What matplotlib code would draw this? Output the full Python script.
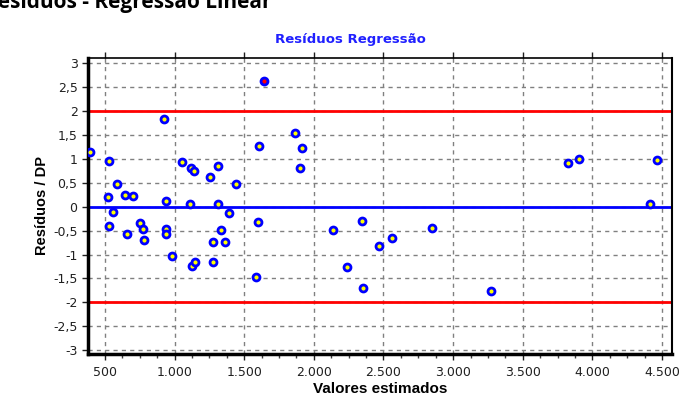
import matplotlib
matplotlib.use("Agg")
import matplotlib.pyplot as plt
from matplotlib.ticker import FuncFormatter, MultipleLocator
import numpy as np

# valores estimados (x) e residuos padronizados (y)
estimados = [393, 531, 521, 588, 645, 698, 560, 531, 921, 940,
             1050, 1117, 1140, 1107, 1255, 1314, 1314, 1390, 1440, 1607,
             1598, 1862, 1912, 1902, 2136, 2343, 2848, 3824, 3902, 4462,
             4414, 660, 752, 776, 783, 940, 940, 981, 1126, 1145,
             1274, 1274, 1333, 1362, 1588, 2240, 2353, 2466, 2562, 3269]
residuos = [1.14, 0.96, 0.20, 0.48, 0.25, 0.22, -0.12, -0.40, 1.83, 0.13,
            0.94, 0.80, 0.74, 0.06, 0.63, 0.86, 0.06, -0.14, 0.48, 1.26,
            -0.32, 1.54, 1.23, 0.80, -0.48, -0.29, -0.45, 0.91, 1.00, 0.97,
            0.06, -0.57, -0.35, -0.46, -0.69, -0.46, -0.58, -1.03, -1.24, -1.15,
            -0.74, -1.15, -0.49, -0.74, -1.47, -1.26, -1.69, -0.83, -0.66, -1.77]
# ponto destacado (fora dos limites)
outlier_x = [1645]
outlier_y = [2.62]
limites = [-2, 2]

fig = plt.figure(figsize=(6.8, 4.12), dpi=100)
ax = fig.add_axes([88 / 680, 1 - 354 / 412, 584 / 680, 296 / 412])

ax.set_xlim(378, 4572)
ax.set_ylim(-3.08, 3.11)

ax.grid(True, color='#808080', linestyle=(0, (3, 3)), linewidth=1.0)
ax.set_axisbelow(True)

for lim in limites:
    ax.axhline(lim, color='#ff0000', linewidth=2.0, zorder=2)
ax.axhline(0, color='#0000ff', linewidth=2.0, zorder=2)

ax.plot(estimados, residuos, 'o', markersize=5, markerfacecolor='#ffff00',
        markeredgecolor='#0000ff', markeredgewidth=2.0, zorder=3)
ax.plot(outlier_x, outlier_y, 'o', markersize=5, markerfacecolor='#ff0000',
        markeredgecolor='#0000ff', markeredgewidth=2.0, zorder=3)

ax.xaxis.set_major_locator(MultipleLocator(500))
ax.xaxis.set_minor_locator(MultipleLocator(125))
ax.yaxis.set_major_locator(MultipleLocator(0.5))
ax.xaxis.set_major_formatter(FuncFormatter(lambda v, p: '{:,.0f}'.format(v).replace(',', '.')))
ax.yaxis.set_major_formatter(FuncFormatter(lambda v, p: ('%g' % v).replace('.', ',')))

ax.tick_params(axis='both', labelsize=9, colors='#202020', length=4, width=1)
ax.tick_params(axis='x', pad=5)
ax.tick_params(axis='x', which='minor', length=3, width=1, color='#404040')
ax.tick_params(axis='x', top=True, direction='out')

ax.spines['left'].set_linewidth(2.5)
ax.spines['bottom'].set_linewidth(2.5)
ax.spines['right'].set_linewidth(1.5)
ax.spines['top'].set_linewidth(1.2)
for s in ax.spines.values():
    s.set_color('black')

ax.set_xlabel('Valores estimados', fontsize=11, fontweight='bold',
              family='Liberation Sans', labelpad=2)
ax.set_ylabel('Resíduos / DP', fontsize=10.5, fontweight='bold',
              family='Liberation Sans', labelpad=3)

fig.text(350 / 680, 1 - 43 / 412, 'Resíduos Regressão', color='#2020ff',
         fontsize=9.5, fontweight='bold', ha='center', va='baseline')
fig.text(272 / 680, 1 - 8 / 412, 'Resíduos - Regressão Linear', color='black',
         fontsize=15, fontweight='bold', family='Open Sans', ha='right', va='baseline')

fig.savefig('out.png', dpi=100)
